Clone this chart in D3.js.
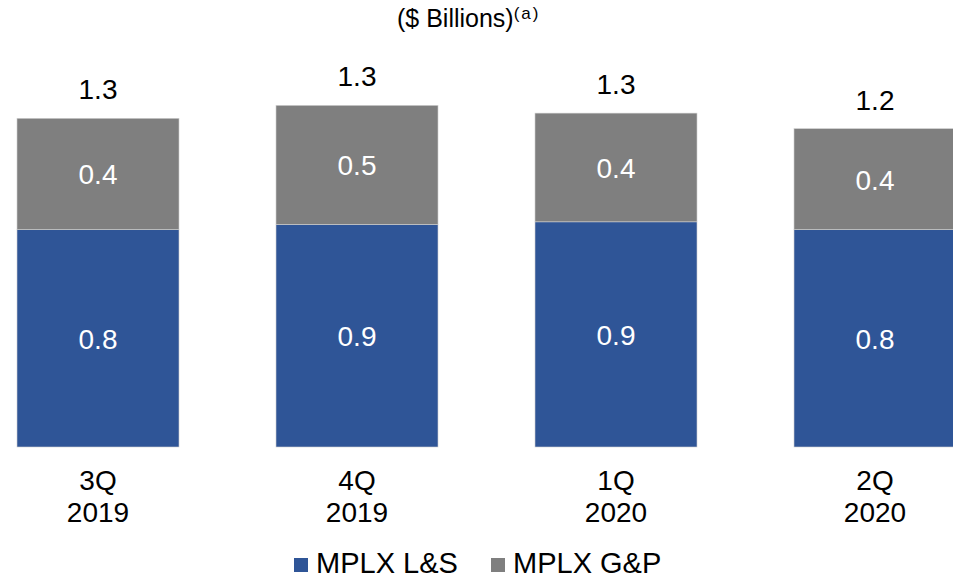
<!DOCTYPE html>
<html>
<head>
<meta charset="utf-8">
<script src="https://cdn.jsdelivr.net/npm/d3@7"></script>
<style>
  html, body { margin: 0; padding: 0; background: #fff; }
  svg { display: block; font-family: "Liberation Sans", Arial, sans-serif; }
</style>
</head>
<body>
<svg id="chart" width="953" height="575"></svg>
<script>
// ---- Data ----
const categories = ["3Q|2019", "4Q|2019", "1Q|2020", "2Q|2020"];
const seriesNames = ["MPLX L&S", "MPLX G&P"];
const lsValues = [0.84, 0.86, 0.87, 0.84];
const gpValues = [0.43, 0.46, 0.42, 0.39];
const colors = ["#2F5597", "#7F7F7F"];

// ---- Layout ----
const svg = d3.select("#chart");
const fmt = d3.format(".1f");

const x = d3.scaleBand()
  .domain(categories)
  .range([-31.5, 1004.5])
  .paddingInner(0.3745)
  .paddingOuter(0.3745 / 2);

const y = d3.scaleLinear().domain([0, 1.7]).range([447, 7]);

const rows = categories.map((c, i) => ({ cat: c, ls: lsValues[i], gp: gpValues[i] }));
const stack = d3.stack().keys(["ls", "gp"])(rows);

const g = svg.append("g");

stack.forEach((layer, li) => {
  g.selectAll(null).data(layer).enter().append("rect")
    .attr("x", d => x(d.data.cat))
    .attr("width", x.bandwidth())
    .attr("y", d => y(d[1]))
    .attr("height", d => y(d[0]) - y(d[1]))
    .attr("fill", colors[li])
    .attr("stroke", "#d0d0d0")
    .attr("stroke-width", 0.6);

  g.selectAll(null).data(layer).enter().append("text")
    .attr("x", d => x(d.data.cat) + x.bandwidth() / 2)
    .attr("y", d => (y(d[0]) + y(d[1])) / 2 + 10.5)
    .attr("text-anchor", "middle")
    .attr("fill", "#fff")
    .attr("font-size", 28)
    .text(d => fmt(d[1] - d[0]));
});

// totals
g.selectAll(null).data(rows).enter().append("text")
  .attr("x", d => x(d.cat) + x.bandwidth() / 2)
  .attr("y", d => y(d.ls + d.gp) - 19)
  .attr("text-anchor", "middle")
  .attr("fill", "#000")
  .attr("font-size", 28)
  .text(d => fmt(d.ls + d.gp));

// x axis labels
const xl = g.selectAll(null).data(categories).enter().append("text")
  .attr("text-anchor", "middle")
  .attr("fill", "#000")
  .attr("font-size", 28);
xl.append("tspan")
  .attr("x", d => x(d) + x.bandwidth() / 2)
  .attr("y", 490)
  .text(d => d.split("|")[0]);
xl.append("tspan")
  .attr("x", d => x(d) + x.bandwidth() / 2)
  .attr("y", 522)
  .text(d => d.split("|")[1]);

// title
const t = svg.append("text")
  .attr("x", 397)
  .attr("y", 27)
  .attr("font-size", 25)
  .attr("fill", "#000");
t.append("tspan").text("($ Billions)");
t.append("tspan").attr("font-size", 17).attr("dy", -8).attr("letter-spacing", 2).text("(a)");

// legend
const legendX = [294, 491];
seriesNames.forEach((name, i) => {
  svg.append("rect")
    .attr("x", legendX[i]).attr("y", 558)
    .attr("width", 14).attr("height", 14)
    .attr("fill", colors[i]);
  svg.append("text")
    .attr("x", legendX[i] + 22).attr("y", 573)
    .attr("font-size", 29)
    .attr("fill", "#000")
    .text(name);
});
</script>
</body>
</html>
